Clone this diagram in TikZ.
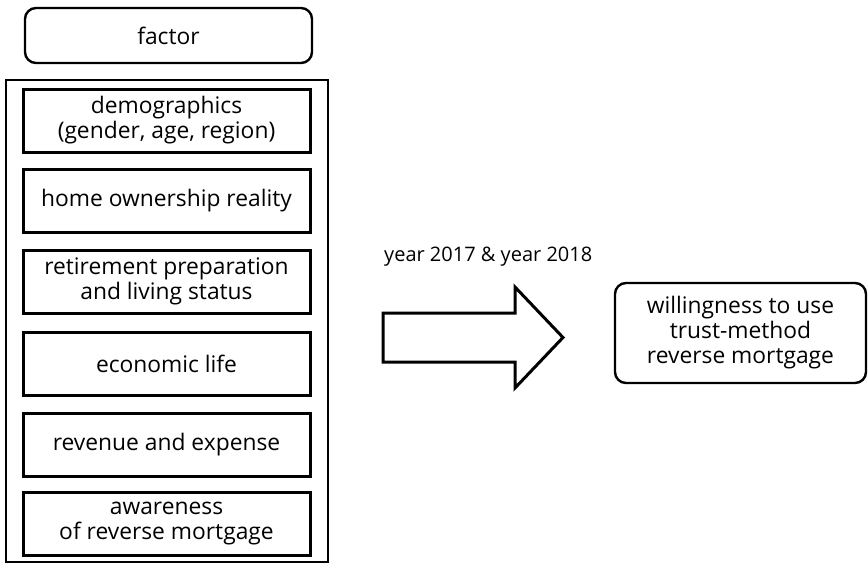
\documentclass[tikz,border=0pt]{standalone}
\usepackage{fontspec}
\setmainfont{Open Sans}
\usepackage{tikz}
\usetikzlibrary{positioning}
\tikzset{every node/.style={font=\fontsize{22.8}{25}\selectfont, align=center, inner sep=0pt}}
\tikzset{itembox/.style={draw, line width=3pt, minimum width=287pt, minimum height=63pt}}
\tikzset{roundbox/.style={draw, line width=2.4pt, rounded corners=11pt}}

\begin{document}
\begin{tikzpicture}[x=1pt, y=-1pt]
        \useasboundingbox (0,0) rectangle (868,565);

        % Header and the frame round the factors
        \node[roundbox, minimum width=287pt, minimum height=55pt] (factor) at (168.5,35.5) {factor};
        \node[draw, line width=2.2pt, minimum width=322pt, minimum height=482pt] (group) at (167,321) {};

        % Factors
        \node[itembox] (demo) at (166.5,120.5) {demographics\\(gender, age, region)};
        \node[itembox] (home) at (166.5,201) {home ownership reality};
        \node[itembox] (retire) at (166.5,281.5) {retirement preparation\\and living status};
        \node[itembox] (econ) at (166.5,364) {economic life};
        \node[itembox] (revenue) at (166.5,444.5) {revenue and expense};
        \node[itembox] (aware) at (166.5,524) {awareness\\of reverse mortgage};

        % Block arrow and its label
        \draw[line width=3pt, miter limit=10] (383,313) -- (515,313) -- (515,287) -- (563,337.5)
            -- (515,388) -- (515,362) -- (383,362) -- cycle;
        \node[anchor=west, font=\fontsize{20}{24}\selectfont] (period) at (384,257) {year 2017 \& year 2018};

        % Outcome
        \node[roundbox, minimum width=251pt, minimum height=100pt] (willing) at (740.5,333)
            {willingness to use\\trust-method\\reverse mortgage};
\end{tikzpicture}
\end{document}
